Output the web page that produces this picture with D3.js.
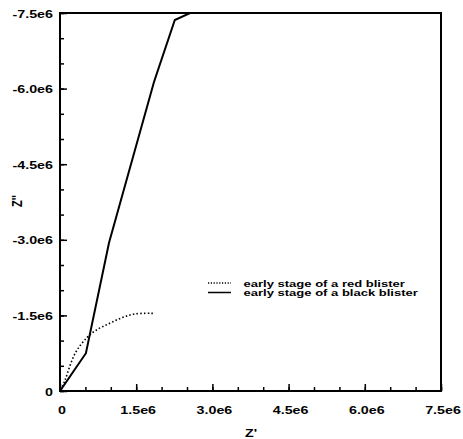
<!DOCTYPE html>
<html>
<head>
<meta charset="utf-8">
<script src="https://cdn.jsdelivr.net/npm/d3@7"></script>
<style>
  body { margin: 0; background: #fff; }
  text { font-family: "Liberation Sans", Arial, sans-serif; font-weight: bold; fill: #000; }
</style>
</head>
<body>
<script>
// axis ticks
var xTicks = [0, 1.5e6, 3.0e6, 4.5e6, 6.0e6, 7.5e6];
var xTickLabels = ["0", "1.5e6", "3.0e6", "4.5e6", "6.0e6", "7.5e6"];
var yTicks = [0, -1.5e6, -3.0e6, -4.5e6, -6.0e6, -7.5e6];
var yTickLabels = ["0", "-1.5e6", "-3.0e6", "-4.5e6", "-6.0e6", "-7.5e6"];

// early stage of a red blister (dotted)
var redZr = [0.02e6, 0.1e6, 0.3e6, 0.53e6, 0.7e6, 0.95e6, 1.21e6, 1.48e6, 1.84e6];
var redZi = [-0.02e6, -0.22e6, -0.75e6, -1.06e6, -1.2e6, -1.33e6, -1.45e6, -1.53e6, -1.54e6];

// early stage of a black blister (solid)
var blackZr = [0, 0.51e6, 0.965e6, 1.85e6, 2.26e6, 2.56e6];
var blackZi = [0, -0.75e6, -2.94e6, -6.13e6, -7.36e6, -7.5e6];

var seriesNames = ["early stage of a red blister", "early stage of a black blister"];

var width = 463, height = 439;
// plot box edges (note: "top" is reserved on window)
var plotL = 60, plotR = 441, plotT = 13, plotB = 391;

var svg = d3.select("body").append("svg")
    .attr("width", width)
    .attr("height", height);

var x = d3.scaleLinear().domain([0, 7.5e6]).range([plotL, plotR]);
var y = d3.scaleLinear().domain([0, -7.5e6]).range([plotB, plotT]);

var minor = d3.range(0, 7.5e6 + 1, 0.5e6);

function ticks(axis, transform) {
    svg.append("g")
        .attr("transform", transform)
        .call(axis)
        .call(g => g.select(".domain").remove())
        .selectAll("line").attr("stroke-width", 1.5);
}

// minor ticks, pointing inward
ticks(d3.axisBottom(x).tickValues(minor).tickSize(-4).tickFormat(""), "translate(0," + plotB + ")");
ticks(d3.axisLeft(y).tickValues(minor.map(d => -d)).tickSize(-4).tickFormat(""), "translate(" + plotL + ",0)");
// major ticks
ticks(d3.axisBottom(x).tickValues(xTicks).tickSize(-7).tickFormat(""), "translate(0," + plotB + ")");
ticks(d3.axisLeft(y).tickValues(yTicks).tickSize(-7).tickFormat(""), "translate(" + plotL + ",0)");

// text stretched horizontally like the scanned original
function label(px, py, str, anchor, size, sx) {
    return svg.append("text")
        .attr("transform", "translate(" + px + "," + py + ") scale(" + sx + ",1)")
        .attr("text-anchor", anchor)
        .style("font-size", size + "px")
        .text(str);
}

xTicks.forEach(function(d, i) {
    label(x(d) + 2, 414, xTickLabels[i], "middle", 10.5, 1.36);
});
yTicks.forEach(function(d, i) {
    label(53, y(d) + 4.5, yTickLabels[i], "end", 10.5, 1.36);
});

label(251, 437, "Z'", "middle", 11, 1.3);
svg.append("text")
    .attr("transform", "translate(22,201) rotate(-90) scale(1,1.3)")
    .attr("text-anchor", "middle")
    .style("font-size", "11px")
    .text("Z''");

// series
svg.append("clipPath").attr("id", "clip")
    .append("rect").attr("x", plotL).attr("y", plotT)
    .attr("width", plotR - plotL).attr("height", plotB - plotT);

var redLine = d3.line().x(d => x(d[0])).y(d => y(d[1])).curve(d3.curveCatmullRom.alpha(0.5));
var blackLine = d3.line().x(d => x(d[0])).y(d => y(d[1]));

svg.append("path")
    .datum(redZr.map((d, i) => [d, redZi[i]]))
    .attr("clip-path", "url(#clip)")
    .attr("d", redLine)
    .attr("fill", "none")
    .attr("stroke", "#000")
    .attr("stroke-width", 1.6)
    .attr("stroke-dasharray", "1.5,2.2");

svg.append("path")
    .datum(blackZr.map((d, i) => [d, blackZi[i]]))
    .attr("clip-path", "url(#clip)")
    .attr("d", blackLine)
    .attr("fill", "none")
    .attr("stroke", "#000")
    .attr("stroke-width", 2);

// frame
svg.append("rect")
    .attr("x", plotL).attr("y", plotT)
    .attr("width", plotR - plotL).attr("height", plotB - plotT)
    .attr("fill", "none")
    .attr("stroke", "#000")
    .attr("stroke-width", 2);

// legend
var legend = svg.append("g");
legend.append("line")
    .attr("x1", 208).attr("x2", 231).attr("y1", 283).attr("y2", 283)
    .attr("stroke", "#000").attr("stroke-width", 1.3)
    .attr("stroke-dasharray", "1.2,1.6");
legend.append("line")
    .attr("x1", 208).attr("x2", 231).attr("y1", 292.5).attr("y2", 292.5)
    .attr("stroke", "#000").attr("stroke-width", 1.5);
label(243.5, 286.5, seriesNames[0], "start", 9.8, 1.33);
label(243.5, 296, seriesNames[1], "start", 9.8, 1.33);
</script>
</body>
</html>
